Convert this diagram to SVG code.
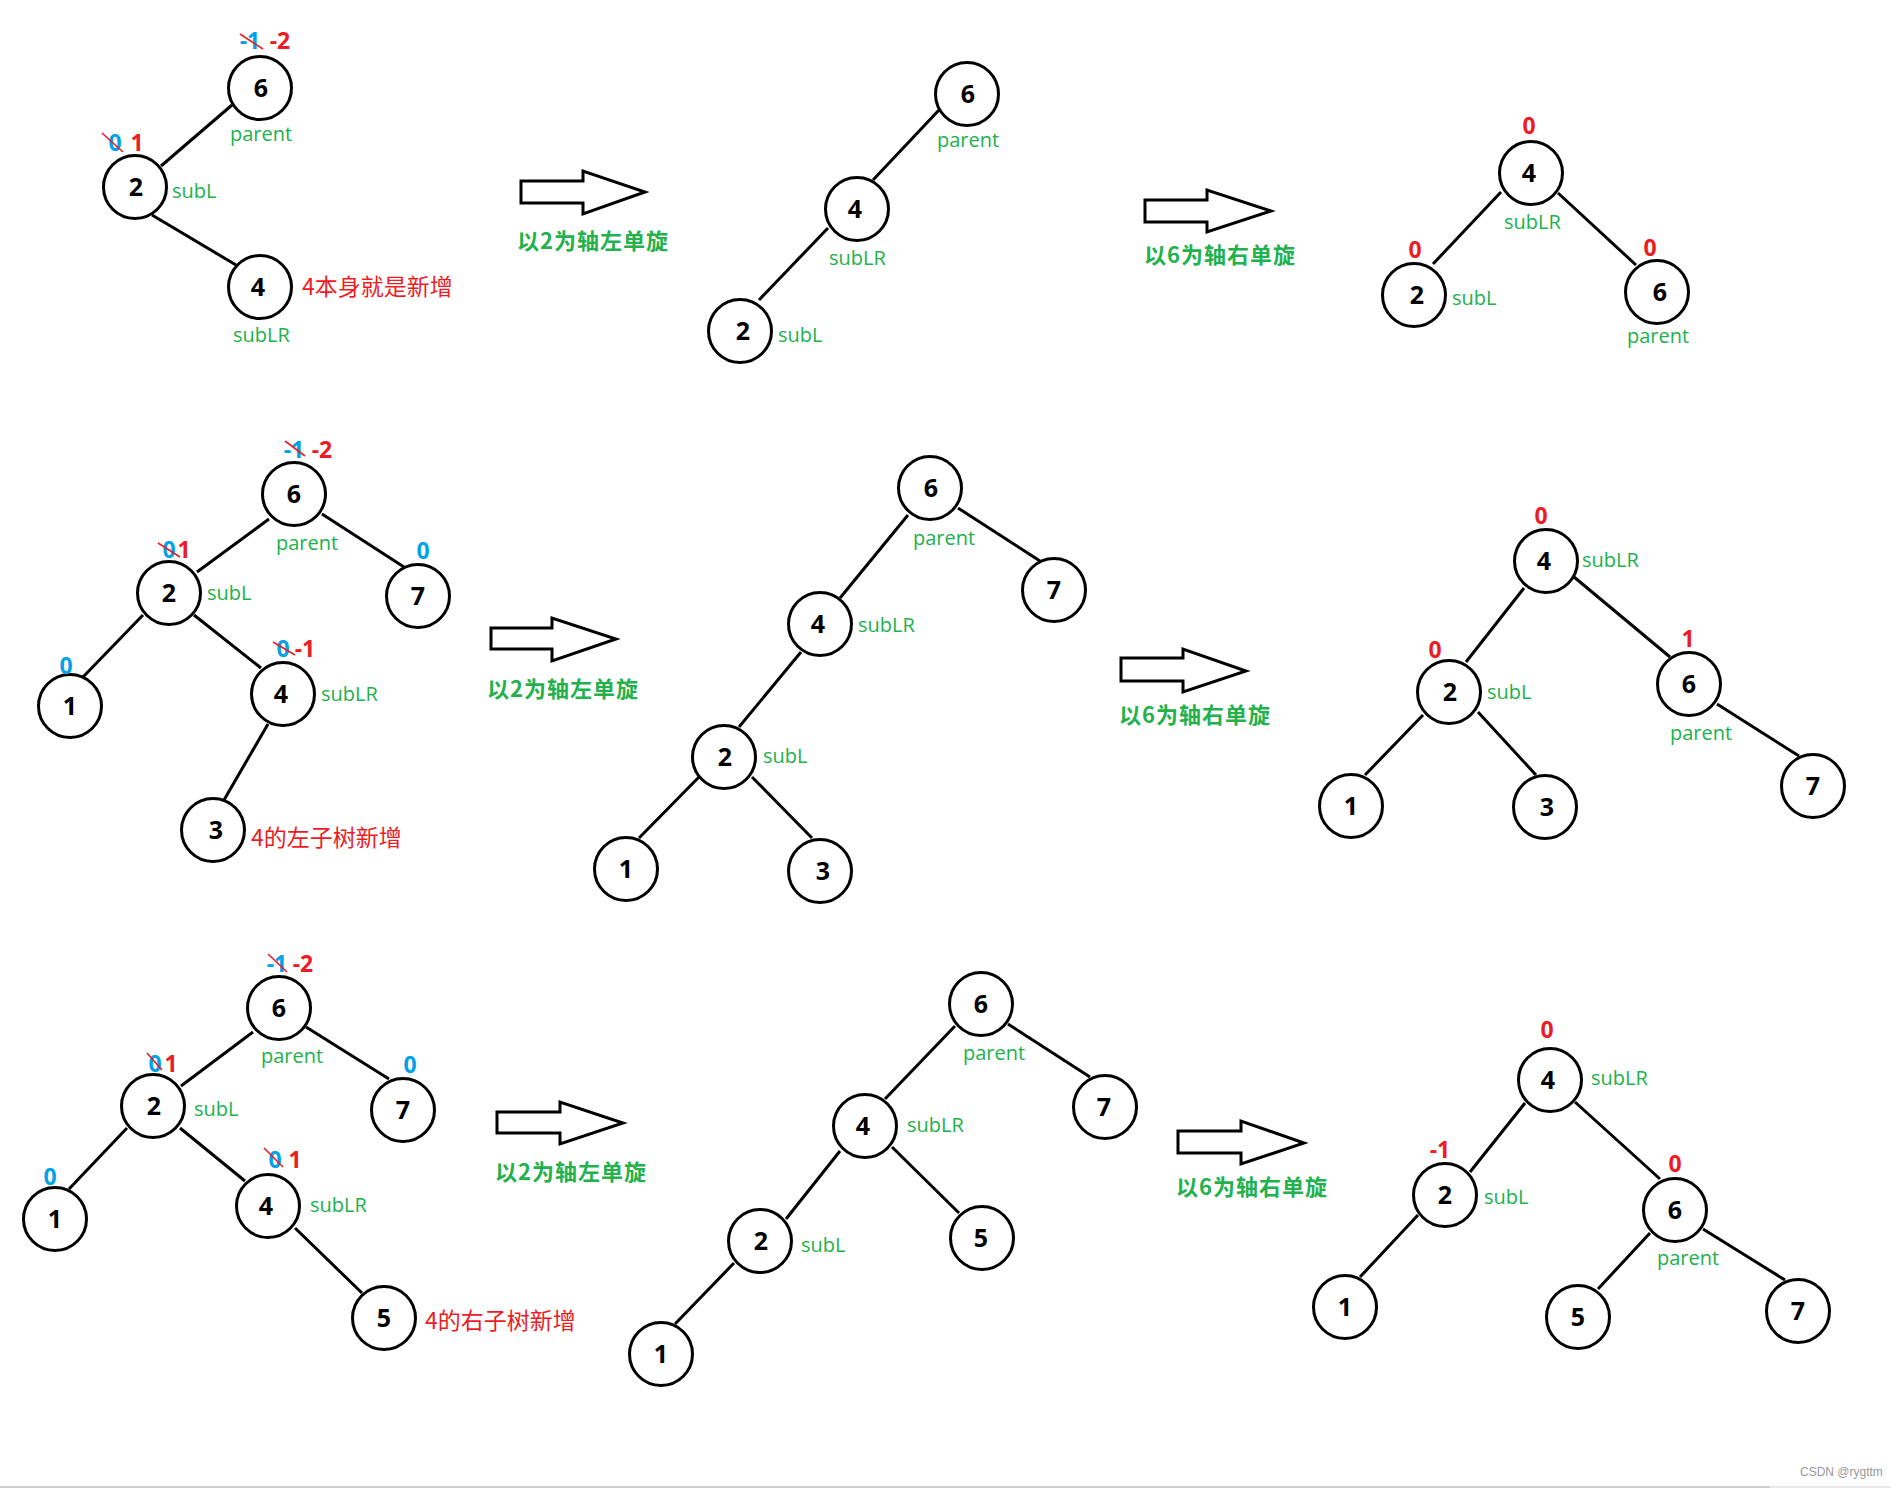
<svg xmlns="http://www.w3.org/2000/svg" width="1891" height="1488" viewBox="0 0 1891 1488">
<style>
.n{fill:#fff;stroke:#000;stroke-width:3}
.d{font-family:"Open Sans","Noto Sans",sans-serif;font-weight:bold;font-size:25px;text-anchor:middle;fill:#000}
.lb{font-family:"Open Sans","Noto Sans",sans-serif;font-size:20px;fill:#22B14C}
.bf{font-family:"Open Sans","Noto Sans",sans-serif;font-weight:bold;font-size:23px;text-anchor:middle}
.r{fill:#ED1C24}
.b{fill:#00A2E8}
.st{stroke:#ED1C24;stroke-width:1.6;fill:none}
.cap{font-family:"Noto Sans CJK SC",sans-serif;font-weight:bold;font-size:22px;letter-spacing:1px;fill:#22B14C}
.note{font-family:"Noto Sans CJK SC",sans-serif;font-size:23px;fill:#ED1C24}
.ar{fill:#fff;stroke:#000;stroke-width:3;stroke-linejoin:miter}
#connectors line{stroke:#000;stroke-width:3}
</style>
<rect width="1891" height="1488" fill="#fff"/>

<g id="connectors">
<line x1="161" y1="166" x2="232" y2="105"/>
<line x1="152" y1="215" x2="236" y2="265"/>
<line x1="939" y1="110" x2="873" y2="180"/>
<line x1="828" y1="228" x2="759" y2="300"/>
<line x1="1501" y1="192" x2="1433" y2="264"/>
<line x1="1558" y1="193" x2="1636" y2="265"/>
<line x1="269" y1="519" x2="197" y2="572"/>
<line x1="322" y1="514" x2="404" y2="567"/>
<line x1="143" y1="615" x2="83" y2="677"/>
<line x1="194" y1="615" x2="261" y2="668"/>
<line x1="268" y1="724" x2="224" y2="800"/>
<line x1="908" y1="515" x2="840" y2="598"/>
<line x1="958" y1="508" x2="1040" y2="561"/>
<line x1="801" y1="652" x2="739" y2="727"/>
<line x1="699" y1="777" x2="639" y2="838"/>
<line x1="752" y1="777" x2="812" y2="838"/>
<line x1="1524" y1="588" x2="1466" y2="662"/>
<line x1="1574" y1="577" x2="1670" y2="657"/>
<line x1="1423" y1="715" x2="1365" y2="775"/>
<line x1="1478" y1="712" x2="1536" y2="775"/>
<line x1="1717" y1="704" x2="1799" y2="756"/>
<line x1="253" y1="1032" x2="181" y2="1086"/>
<line x1="306" y1="1027" x2="389" y2="1079"/>
<line x1="127" y1="1128" x2="69" y2="1189"/>
<line x1="180" y1="1128" x2="245" y2="1181"/>
<line x1="295" y1="1228" x2="362" y2="1293"/>
<line x1="955" y1="1026" x2="885" y2="1099"/>
<line x1="1008" y1="1024" x2="1090" y2="1077"/>
<line x1="840" y1="1151" x2="786" y2="1219"/>
<line x1="892" y1="1147" x2="959" y2="1213"/>
<line x1="734" y1="1263" x2="675" y2="1324"/>
<line x1="1525" y1="1103" x2="1470" y2="1172"/>
<line x1="1575" y1="1102" x2="1660" y2="1179"/>
<line x1="1418" y1="1215" x2="1360" y2="1277"/>
<line x1="1650" y1="1233" x2="1598" y2="1289"/>
<line x1="1703" y1="1229" x2="1785" y2="1280"/>
</g>

<g id="arrows">
<polygon class="ar" points="521,181 583,181 583,171 645,192 583,214 583,203 521,203"/>
<polygon class="ar" points="1145,200 1207,200 1207,190 1271,211 1207,232 1207,222 1145,222"/>
<polygon class="ar" points="491,628 552,628 552,618 616,639 552,661 552,649 491,649"/>
<polygon class="ar" points="1121,658 1183,658 1183,649 1246,671 1183,692 1183,681 1121,681"/>
<polygon class="ar" points="497,1112 560,1112 560,1102 623,1123 560,1144 560,1133 497,1133"/>
<polygon class="ar" points="1178,1131 1241,1131 1241,1121 1304,1143 1241,1164 1241,1153 1178,1153"/>
<text class="cap" x="517" y="249">以2为轴左单旋</text>
<text class="cap" x="1144" y="263">以6为轴右单旋</text>
<text class="cap" x="487" y="697">以2为轴左单旋</text>
<text class="cap" x="1119" y="723">以6为轴右单旋</text>
<text class="cap" x="495" y="1180">以2为轴左单旋</text>
<text class="cap" x="1176" y="1195">以6为轴右单旋</text>
</g>

<!-- Row 1 left -->
<g id="r1l-6"><circle class="n" cx="260" cy="88" r="31.5"/><text class="d" x="261" y="97">6</text>
<text class="bf b" x="250" y="49">-1</text><text class="bf r" x="280" y="49">-2</text><line class="st" x1="240" y1="34" x2="263" y2="49"/>
<text class="lb" x="230" y="141">parent</text></g>
<g id="r1l-2"><circle class="n" cx="135" cy="187" r="31.5"/><text class="d" x="136" y="196">2</text>
<text class="bf b" x="115" y="151">0</text><text class="bf r" x="137" y="151">1</text><line class="st" x1="102" y1="133" x2="123" y2="152"/>
<text class="lb" x="172" y="198">subL</text></g>
<g id="r1l-4"><circle class="n" cx="260" cy="287" r="31.5"/><text class="d" x="258" y="296">4</text>
<text class="lb" x="233" y="342">subLR</text>
<text class="note" x="302" y="295">4本身就是新增</text></g>

<!-- Row 1 middle -->
<g id="r1m-6"><circle class="n" cx="967" cy="94" r="31.5"/><text class="d" x="968" y="103">6</text><text class="lb" x="937" y="147">parent</text></g>
<g id="r1m-4"><circle class="n" cx="857" cy="209" r="31.5"/><text class="d" x="855" y="218">4</text><text class="lb" x="829" y="265">subLR</text></g>
<g id="r1m-2"><circle class="n" cx="740" cy="331" r="31.5"/><text class="d" x="743" y="340">2</text><text class="lb" x="778" y="342">subL</text></g>

<!-- Row 1 right -->
<g id="r1r-4"><circle class="n" cx="1531" cy="173" r="31.5"/><text class="d" x="1529" y="182">4</text>
<text class="bf r" x="1529" y="134">0</text><text class="lb" x="1504" y="229">subLR</text></g>
<g id="r1r-2"><circle class="n" cx="1414" cy="295" r="31.5"/><text class="d" x="1417" y="304">2</text>
<text class="bf r" x="1415" y="258">0</text><text class="lb" x="1452" y="305">subL</text></g>
<g id="r1r-6"><circle class="n" cx="1657" cy="292" r="31.5"/><text class="d" x="1660" y="301">6</text>
<text class="bf r" x="1650" y="256">0</text><text class="lb" x="1627" y="343">parent</text></g>

<!-- Row 2 left -->
<g id="r2l-6"><circle class="n" cx="294" cy="494" r="31.5"/><text class="d" x="294" y="503">6</text>
<text class="bf b" x="294" y="458">-1</text><text class="bf r" x="322" y="458">-2</text><line class="st" x1="285" y1="441" x2="305" y2="456"/>
<text class="lb" x="276" y="550">parent</text></g>
<g id="r2l-2"><circle class="n" cx="169" cy="593" r="31.5"/><text class="d" x="169" y="602">2</text>
<text class="bf b" x="169" y="558">0</text><text class="bf r" x="184" y="558">1</text><line class="st" x1="158" y1="543" x2="180" y2="557"/>
<text class="lb" x="207" y="600">subL</text></g>
<g id="r2l-7"><circle class="n" cx="418" cy="596" r="31.5"/><text class="d" x="418" y="605">7</text>
<text class="bf b" x="423" y="559">0</text></g>
<g id="r2l-1"><circle class="n" cx="70" cy="706" r="31.5"/><text class="d" x="70" y="715">1</text>
<text class="bf b" x="66" y="674">0</text></g>
<g id="r2l-4"><circle class="n" cx="283" cy="694" r="31.5"/><text class="d" x="281" y="703">4</text>
<text class="bf b" x="283" y="657">0</text><text class="bf r" x="305" y="657">-1</text><line class="st" x1="273" y1="642" x2="295" y2="655"/>
<text class="lb" x="321" y="701">subLR</text></g>
<g id="r2l-3"><circle class="n" cx="213" cy="830" r="31.5"/><text class="d" x="216" y="839">3</text>
<text class="note" x="251" y="846">4的左子树新增</text></g>

<!-- Row 2 middle -->
<g id="r2m-6"><circle class="n" cx="930" cy="488" r="31.5"/><text class="d" x="931" y="497">6</text><text class="lb" x="913" y="545">parent</text></g>
<g id="r2m-7"><circle class="n" cx="1054" cy="590" r="31.5"/><text class="d" x="1054" y="599">7</text></g>
<g id="r2m-4"><circle class="n" cx="820" cy="624" r="31.5"/><text class="d" x="818" y="633">4</text><text class="lb" x="858" y="632">subLR</text></g>
<g id="r2m-2"><circle class="n" cx="724" cy="757" r="31.5"/><text class="d" x="725" y="766">2</text><text class="lb" x="763" y="763">subL</text></g>
<g id="r2m-1"><circle class="n" cx="626" cy="869" r="31.5"/><text class="d" x="626" y="878">1</text></g>
<g id="r2m-3"><circle class="n" cx="820" cy="871" r="31.5"/><text class="d" x="823" y="880">3</text></g>

<!-- Row 2 right -->
<g id="r2r-4"><circle class="n" cx="1546" cy="561" r="31.5"/><text class="d" x="1544" y="570">4</text>
<text class="bf r" x="1541" y="524">0</text><text class="lb" x="1582" y="567">subLR</text></g>
<g id="r2r-2"><circle class="n" cx="1449" cy="692" r="31.5"/><text class="d" x="1450" y="701">2</text>
<text class="bf r" x="1435" y="658">0</text><text class="lb" x="1487" y="699">subL</text></g>
<g id="r2r-6"><circle class="n" cx="1689" cy="684" r="31.5"/><text class="d" x="1689" y="693">6</text>
<text class="bf r" x="1688" y="647">1</text><text class="lb" x="1670" y="740">parent</text></g>
<g id="r2r-1"><circle class="n" cx="1351" cy="806" r="31.5"/><text class="d" x="1351" y="815">1</text></g>
<g id="r2r-3"><circle class="n" cx="1545" cy="807" r="31.5"/><text class="d" x="1547" y="816">3</text></g>
<g id="r2r-7"><circle class="n" cx="1813" cy="786" r="31.5"/><text class="d" x="1813" y="795">7</text></g>

<!-- Row 3 left -->
<g id="r3l-6"><circle class="n" cx="279" cy="1008" r="31.5"/><text class="d" x="279" y="1017">6</text>
<text class="bf b" x="277" y="972">-1</text><text class="bf r" x="303" y="972">-2</text><line class="st" x1="268" y1="954" x2="287" y2="972"/>
<text class="lb" x="261" y="1063">parent</text></g>
<g id="r3l-2"><circle class="n" cx="153" cy="1106" r="31.5"/><text class="d" x="154" y="1115">2</text>
<text class="bf b" x="155" y="1072">0</text><text class="bf r" x="171" y="1072">1</text><line class="st" x1="147" y1="1053" x2="162" y2="1070"/>
<text class="lb" x="194" y="1116">subL</text></g>
<g id="r3l-7"><circle class="n" cx="403" cy="1110" r="31.5"/><text class="d" x="403" y="1119">7</text>
<text class="bf b" x="410" y="1073">0</text></g>
<g id="r3l-1"><circle class="n" cx="55" cy="1219" r="31.5"/><text class="d" x="55" y="1228">1</text>
<text class="bf b" x="50" y="1185">0</text></g>
<g id="r3l-4"><circle class="n" cx="268" cy="1206" r="31.5"/><text class="d" x="266" y="1215">4</text>
<text class="bf b" x="275" y="1168">0</text><text class="bf r" x="295" y="1168">1</text><line class="st" x1="264" y1="1148" x2="283" y2="1167"/>
<text class="lb" x="310" y="1212">subLR</text></g>
<g id="r3l-5"><circle class="n" cx="384" cy="1318" r="31.5"/><text class="d" x="384" y="1327">5</text>
<text class="note" x="425" y="1329">4的右子树新增</text></g>

<!-- Row 3 middle -->
<g id="r3m-6"><circle class="n" cx="981" cy="1004" r="31.5"/><text class="d" x="981" y="1013">6</text><text class="lb" x="963" y="1060">parent</text></g>
<g id="r3m-7"><circle class="n" cx="1105" cy="1107" r="31.5"/><text class="d" x="1104" y="1116">7</text></g>
<g id="r3m-4"><circle class="n" cx="865" cy="1126" r="31.5"/><text class="d" x="863" y="1135">4</text><text class="lb" x="907" y="1132">subLR</text></g>
<g id="r3m-2"><circle class="n" cx="760" cy="1241" r="31.5"/><text class="d" x="761" y="1250">2</text><text class="lb" x="801" y="1252">subL</text></g>
<g id="r3m-5"><circle class="n" cx="982" cy="1238" r="31.5"/><text class="d" x="981" y="1247">5</text></g>
<g id="r3m-1"><circle class="n" cx="661" cy="1354" r="31.5"/><text class="d" x="661" y="1363">1</text></g>

<!-- Row 3 right -->
<g id="r3r-4"><circle class="n" cx="1550" cy="1080" r="31.5"/><text class="d" x="1548" y="1089">4</text>
<text class="bf r" x="1547" y="1038">0</text><text class="lb" x="1591" y="1085">subLR</text></g>
<g id="r3r-2"><circle class="n" cx="1445" cy="1195" r="31.5"/><text class="d" x="1445" y="1204">2</text>
<text class="bf r" x="1440" y="1158">-1</text><text class="lb" x="1484" y="1204">subL</text></g>
<g id="r3r-6"><circle class="n" cx="1675" cy="1210" r="31.5"/><text class="d" x="1675" y="1219">6</text>
<text class="bf r" x="1675" y="1172">0</text><text class="lb" x="1657" y="1265">parent</text></g>
<g id="r3r-1"><circle class="n" cx="1345" cy="1307" r="31.5"/><text class="d" x="1345" y="1316">1</text></g>
<g id="r3r-5"><circle class="n" cx="1578" cy="1317" r="31.5"/><text class="d" x="1578" y="1326">5</text></g>
<g id="r3r-7"><circle class="n" cx="1798" cy="1311" r="31.5"/><text class="d" x="1798" y="1320">7</text></g>

<line x1="0" y1="1487" x2="1770" y2="1487" stroke="#cfcfcf" stroke-width="2"/>
<line x1="1770" y1="1487" x2="1891" y2="1487" stroke="#e8e8e8" stroke-width="2"/>
<text x="1800" y="1476" font-family="Liberation Sans, sans-serif" font-size="12" fill="#999">CSDN @rygttm</text>
</svg>
